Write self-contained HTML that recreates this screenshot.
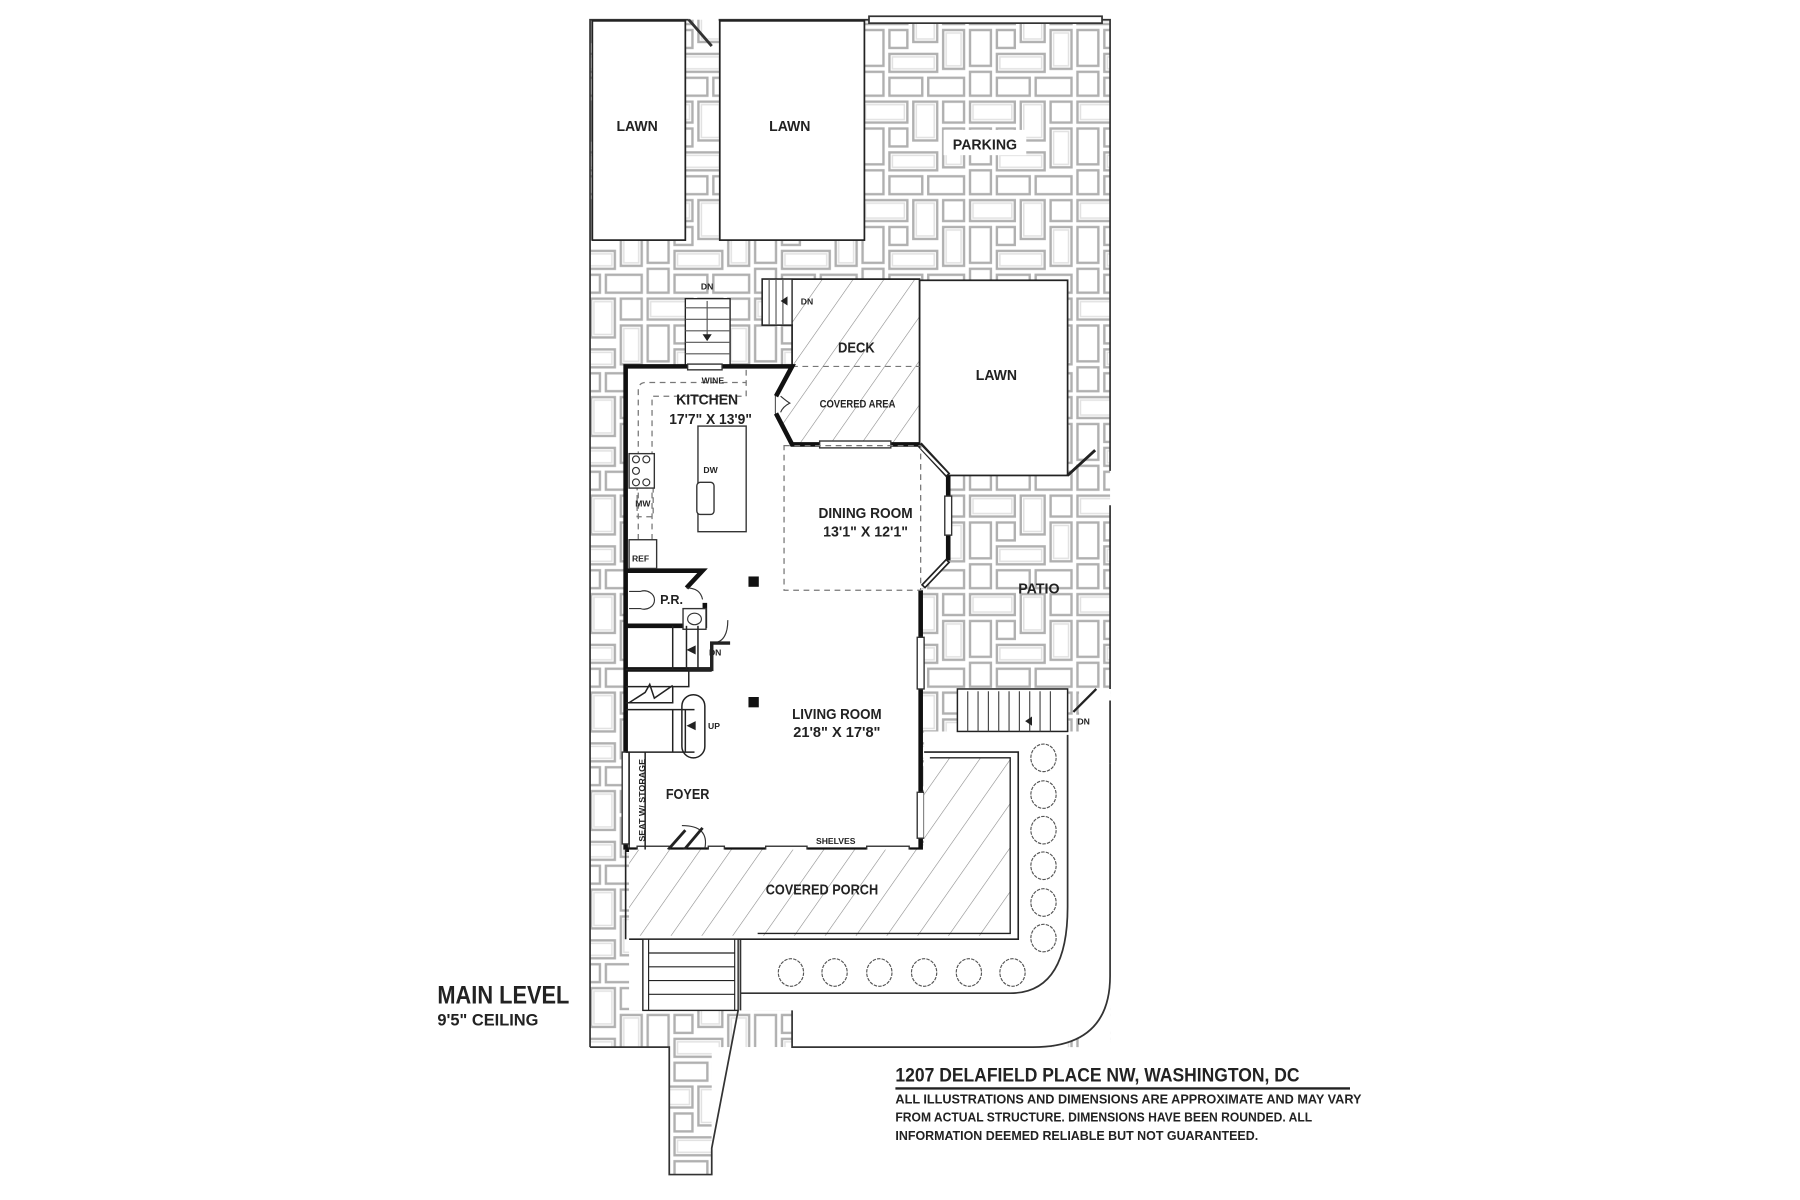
<!DOCTYPE html>
<html><head><meta charset="utf-8"><style>
html,body{margin:0;padding:0;background:#fff;}
svg{display:block;}
text{font-family:"Liberation Sans Narrow","Liberation Sans",sans-serif;font-weight:bold;fill:#222;}
</style></head><body>
<svg width="1800" height="1200" viewBox="0 0 1568 1045" xmlns="http://www.w3.org/2000/svg">
<defs>
<pattern id="pv" width="72" height="66" patternUnits="userSpaceOnUse" patternTransform="scale(1.3)">
<rect width="72" height="66" fill="#fff"/>
<g fill="none" stroke="#b0b0b0" stroke-width="1.6">
<rect x="2" y="2" width="30" height="14"/><rect x="36" y="2" width="16" height="26"/><rect x="56" y="2" width="14" height="14"/>
<rect x="2" y="20" width="14" height="24"/><rect x="20" y="20" width="12" height="12"/><rect x="56" y="20" width="14" height="26"/>
<rect x="20" y="36" width="32" height="12"/><rect x="2" y="48" width="14" height="16"/><rect x="20" y="52" width="22" height="12"/><rect x="46" y="52" width="24" height="12"/>
</g>
<g fill="none" stroke="#e2e2e2" stroke-width="1">
<rect x="4" y="4" width="26" height="10"/><rect x="38" y="4" width="12" height="22"/><rect x="58" y="22" width="10" height="22"/><rect x="22" y="38" width="28" height="8"/>
</g></pattern>
<pattern id="ht" width="22" height="22" patternUnits="userSpaceOnUse" patternTransform="rotate(35)">
<rect width="22" height="22" fill="#fff"/><line x1="0" y1="0" x2="0" y2="22" stroke="#888" stroke-width="1" stroke-dasharray="30 6"/>
</pattern>
</defs>

<rect x="514" y="17" width="453" height="895" fill="url(#pv)"/>
<rect x="583" y="905" width="37" height="118" fill="url(#pv)"/>
<path d="M805,637 L967,637 L967,850 Q967,912 900,912 L690,912 L690,880 L643,880 L548,880 L548,740 L805,740 Z" fill="#fff"/>
<rect x="940" y="600" width="27" height="320" fill="#fff"/>
<path d="M643,880 L690,880 L690,912 L630,912 L620,960 L620,1030 L700,1030 L700,880 Z" fill="#fff"/>
<path d="M620,1000 L643,880 L643,912 Z" fill="#fff"/>
<rect x="822" y="113" width="72" height="22" fill="#fff"/>
<g fill="none" stroke="#333" stroke-width="1.5">
<path d="M514,912 L514,17 L600,17 M626,17 L757,17"/>
<rect x="757" y="14" width="203" height="6" fill="#fff"/>
<path d="M960,17 L967,17 L967,410 M967,440 L967,600 M967,610 L967,665"/>
<path d="M514,912 L583,912 L583,1023 L620,1023 L620,1000 L643,880"/>
<path d="M690,880 L690,912 L900,912 Q967,912 967,850 L967,665"/>
<path d="M930,640 L930,790 Q930,865 880,865 L645,865"/>
<path d="M645,818 L645,880"/>
<line x1="600" y1="17" x2="620" y2="40" stroke-width="2.5"/>
</g>
<g fill="#fff" stroke="#222" stroke-width="1.5">
<rect x="516" y="18" width="81" height="191"/>
<rect x="627" y="18" width="126" height="191"/>
</g>
<rect x="801" y="244" width="129" height="170" fill="#fff" stroke="#222" stroke-width="1.5"/>
<path d="M930,414 L954,392" stroke="#222" stroke-width="2.5"/>
<path d="M664,243 L801,243 L801,388 L690,388 L675,360 L675,345 L690,319 L690,283 L664,283 Z" fill="url(#ht)" stroke="#222" stroke-width="1.5"/>
<rect x="664" y="243" width="26" height="40" fill="#fff" stroke="#222" stroke-width="1.2"/>
<g stroke="#555" stroke-width="1"><line x1="670" y1="243" x2="670" y2="283"/><line x1="676" y1="243" x2="676" y2="283"/><line x1="682" y1="243" x2="682" y2="283"/></g>
<path d="M680,262 l6,-4 v8z" fill="#222"/>
<line x1="690" y1="319" x2="801" y2="319" stroke="#777" stroke-dasharray="5 4"/>
<rect x="597" y="260" width="39" height="58" fill="#fff" stroke="#222" stroke-width="1.2"/>
<g stroke="#555"><line x1="597" y1="268" x2="636" y2="268"/><line x1="597" y1="278" x2="636" y2="278"/><line x1="597" y1="288" x2="636" y2="288"/><line x1="597" y1="298" x2="636" y2="298"/><line x1="597" y1="308" x2="636" y2="308"/><line x1="616" y1="262" x2="616" y2="296"/></g>
<path d="M612,291 h8 l-4,6z" fill="#222"/>
<path d="M545,319 L690,319 L675,345 L675,360 L690,387 L801,387 L826,414 L826,488 L802,514 L802,740 L545,740 Z" fill="#fff" stroke="none"/>
<g fill="none" stroke="#111" stroke-width="4">
<path d="M545,740 L545,319 L690,319 L676,345"/>
<path d="M676,360 L690,387 L801,387"/>
<path d="M826,414 L826,488 M802,514 L802,740 L545,740"/>
<path d="M545,497 L612,497 L598,512 M545,545 L614,545 L614,525 M545,583 L620,583"/>
</g>
<g fill="#fff" stroke="#333" stroke-width="1.2">
<rect x="714" y="384" width="62" height="6"/>
<rect x="823" y="432" width="6" height="34"/>
<rect x="799" y="555" width="6" height="45"/><rect x="799" y="690" width="6" height="40"/>
<rect x="599" y="317" width="30" height="5"/>
<rect x="555" y="737" width="28" height="6"/><rect x="617" y="737" width="14" height="6"/><rect x="667" y="737" width="36" height="6"/><rect x="755" y="737" width="37" height="6"/>
<rect x="542" y="655" width="6" height="80"/>
</g>
<line x1="801" y1="387" x2="826" y2="414" stroke="#222" stroke-width="5"/>
<line x1="804" y1="511" x2="826" y2="488" stroke="#222" stroke-width="5"/>
<line x1="802" y1="389" x2="825" y2="413" stroke="#fff" stroke-width="2"/>
<line x1="805" y1="510" x2="825" y2="489" stroke="#fff" stroke-width="2"/>
<g fill="none" stroke="#777" stroke-dasharray="5 4" stroke-width="1.1">
<path d="M556,470 L556,340 Q556,333 563,333 L650,333"/>
<path d="M568,470 L568,345 L650,345 L650,319"/>
<rect x="612" y="394" width="16" height="28"/>
<rect x="555" y="420" width="14" height="30"/>
<rect x="683" y="388" width="119" height="126"/>
</g>
<g fill="#fff" stroke="#333" stroke-width="1.2">
<rect x="608" y="371" width="42" height="92"/>
<rect x="607" y="420" width="15" height="28" rx="3"/>
<rect x="548" y="395" width="22" height="30"/>
<rect x="548" y="470" width="24" height="25"/>
<rect x="595" y="530" width="20" height="18"/>
</g>
<g fill="none" stroke="#333"><circle cx="554" cy="400" r="3"/><circle cx="563" cy="400" r="3"/><circle cx="554" cy="410" r="3"/><circle cx="554" cy="420" r="3"/><circle cx="563" cy="420" r="3"/>
<ellipse cx="605" cy="539" rx="6" ry="5"/><path d="M548,515 h10 a9,8 0 1 1 0,15 h-10"/>
<path d="M598,512 q12,0 14,10"/><path d="M620,560 q14,0 14,-20"/><path d="M680,345 q6,5 8,6 q-6,3 -8,8"/>
<path d="M614,739 q4,-20 -20,-20"/></g>
<line x1="582" y1="740" x2="597" y2="723" stroke="#222" stroke-width="2.5"/>
<line x1="596" y1="740" x2="612" y2="721" stroke="#222" stroke-width="2.5"/>
<rect x="652" y="502" width="9" height="9" fill="#111"/><rect x="652" y="607" width="9" height="9" fill="#111"/>
<g fill="none" stroke="#222" stroke-width="1.3">
<path d="M545,583 L600,583 L600,598 L545,598"/>
<line x1="586" y1="545" x2="586" y2="583"/><line x1="598" y1="545" x2="598" y2="583"/><line x1="608" y1="545" x2="608" y2="583"/>
<path d="M600,583 L620,583 L620,560 L636,560" stroke-width="3"/>
<path d="M545,612 L586,612 L586,598"/>
<path d="M548,612 L562,603 L566,596 L570,608 L586,597"/>
<path d="M586,618 L586,655 M545,618 L605,618 M545,655 L605,655"/>
<line x1="597" y1="618" x2="597" y2="655"/>
<rect x="594" y="605" width="20" height="55" rx="10"/>
<line x1="548" y1="655" x2="548" y2="740"/><line x1="562" y1="655" x2="562" y2="740"/>
</g>
<path d="M598,566 l8,-4 v8z M598,632 l8,-4 v8z" fill="#222"/>
<rect x="834" y="600" width="96" height="37" fill="#fff" stroke="#222" stroke-width="1.3"/>
<g stroke="#444"><line x1="843" y1="602" x2="843" y2="637"/><line x1="852" y1="602" x2="852" y2="637"/><line x1="861" y1="602" x2="861" y2="637"/><line x1="870" y1="602" x2="870" y2="637"/><line x1="879" y1="602" x2="879" y2="637"/><line x1="888" y1="602" x2="888" y2="637"/><line x1="897" y1="602" x2="897" y2="637"/><line x1="906" y1="602" x2="906" y2="637"/><line x1="915" y1="602" x2="915" y2="637"/></g>
<path d="M893,628 l6,-4 v8z" fill="#222"/>
<line x1="935" y1="620" x2="955" y2="600" stroke="#222" stroke-width="2"/>
<path d="M548,740 L805,740 L805,660 L880,660 L880,815 L548,815 Z" fill="url(#ht)"/>
<path d="M548,818 L887,818 L887,655 L805,655 M545,740 L545,818" fill="none" stroke="#222" stroke-width="1.4"/>
<path d="M810,660 L880,660 L880,813 L660,813" fill="none" stroke="#222" stroke-width="1.2"/>
<rect x="560" y="818" width="83" height="62" fill="#fff" stroke="#222" stroke-width="1.2"/>
<g stroke="#222"><line x1="565" y1="818" x2="565" y2="880"/><line x1="640" y1="818" x2="640" y2="880"/><line x1="565" y1="830" x2="640" y2="830"/><line x1="565" y1="842" x2="640" y2="842"/><line x1="565" y1="854" x2="640" y2="854"/><line x1="565" y1="866" x2="640" y2="866"/></g>
<g fill="#fff" stroke="#555" stroke-width="1" stroke-dasharray="3 1">
<ellipse cx="909" cy="660" rx="11" ry="12"/><ellipse cx="909" cy="692" rx="11" ry="12"/><ellipse cx="909" cy="723" rx="11" ry="12"/><ellipse cx="909" cy="754" rx="11" ry="12"/><ellipse cx="909" cy="786" rx="11" ry="12"/><ellipse cx="909" cy="817" rx="11" ry="12"/>
<ellipse cx="689" cy="847" rx="11" ry="12"/><ellipse cx="727" cy="847" rx="11" ry="12"/><ellipse cx="766" cy="847" rx="11" ry="12"/><ellipse cx="805" cy="847" rx="11" ry="12"/><ellipse cx="844" cy="847" rx="11" ry="12"/><ellipse cx="882" cy="847" rx="11" ry="12"/>
</g>
<g text-anchor="middle" font-size="13" lengthAdjust="spacingAndGlyphs">
<text x="555" y="114" textLength="36" lengthAdjust="spacingAndGlyphs">LAWN</text>
<text x="688" y="114" textLength="36" lengthAdjust="spacingAndGlyphs">LAWN</text>
<text x="858" y="130" textLength="56" lengthAdjust="spacingAndGlyphs">PARKING</text>
<text x="746" y="307" textLength="32" lengthAdjust="spacingAndGlyphs">DECK</text>
<text x="868" y="331" textLength="36" lengthAdjust="spacingAndGlyphs">LAWN</text>
<text x="616" y="352" textLength="54" lengthAdjust="spacingAndGlyphs">KITCHEN</text>
<text x="619" y="369" textLength="72" lengthAdjust="spacingAndGlyphs">17'7" X 13'9"</text>
<text x="747" y="355" font-size="10" textLength="66" lengthAdjust="spacingAndGlyphs">COVERED AREA</text>
<text x="754" y="451" textLength="82" lengthAdjust="spacingAndGlyphs">DINING ROOM</text>
<text x="754" y="467" textLength="74" lengthAdjust="spacingAndGlyphs">13'1" X 12'1"</text>
<text x="905" y="517" textLength="36" lengthAdjust="spacingAndGlyphs">PATIO</text>
<text x="729" y="626" textLength="78" lengthAdjust="spacingAndGlyphs">LIVING ROOM</text>
<text x="729" y="642" textLength="76" lengthAdjust="spacingAndGlyphs">21'8" X 17'8"</text>
<text x="599" y="696" textLength="38" lengthAdjust="spacingAndGlyphs">FOYER</text>
<text x="716" y="779" textLength="98" lengthAdjust="spacingAndGlyphs">COVERED PORCH</text>
<text x="585" y="526" font-size="11" textLength="20" lengthAdjust="spacingAndGlyphs">P.R.</text>
</g>
<g font-size="7.5" text-anchor="middle">
<text x="621" y="334">WINE</text><text x="619" y="412">DW</text><text x="560" y="441">MW</text><text x="558" y="489">REF</text>
<text x="616" y="252">DN</text><text x="703" y="265">DN</text><text x="623" y="571">DN</text><text x="622" y="635">UP</text><text x="944" y="631">DN</text>
<text x="728" y="735">SHELVES</text>
<text transform="translate(562,697) rotate(-90)" textLength="72" lengthAdjust="spacingAndGlyphs">SEAT W/ STORAGE</text>
</g>
<text x="381" y="874" font-size="22" textLength="115" lengthAdjust="spacingAndGlyphs">MAIN LEVEL</text>
<text x="381" y="893" font-size="14.5" textLength="88" lengthAdjust="spacingAndGlyphs">9'5" CEILING</text>
<text x="780" y="942" font-size="17" textLength="352" lengthAdjust="spacingAndGlyphs">1207 DELAFIELD PLACE NW, WASHINGTON, DC</text>
<line x1="780" y1="948" x2="1176" y2="948" stroke="#222" stroke-width="2"/>
<g font-size="11.5">
<text x="780" y="961" textLength="406" lengthAdjust="spacingAndGlyphs">ALL ILLUSTRATIONS AND DIMENSIONS ARE APPROXIMATE AND MAY VARY</text>
<text x="780" y="977" textLength="363" lengthAdjust="spacingAndGlyphs">FROM ACTUAL STRUCTURE. DIMENSIONS HAVE BEEN ROUNDED. ALL</text>
<text x="780" y="993" textLength="316" lengthAdjust="spacingAndGlyphs">INFORMATION DEEMED RELIABLE BUT NOT GUARANTEED.</text>
</g>
</svg>
</body></html>
